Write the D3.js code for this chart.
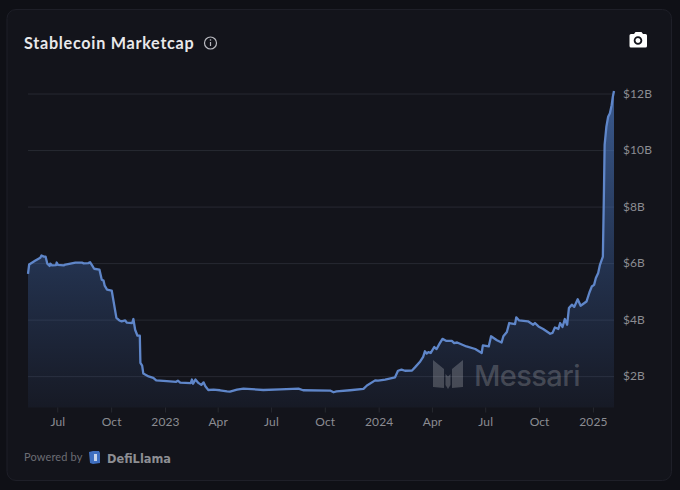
<!DOCTYPE html>
<html>
<head>
<meta charset="utf-8">
<script src="https://cdn.jsdelivr.net/npm/d3@7"></script>
<style>
html, body { margin: 0; padding: 0; background: #0f1016; }
svg { display: block; font-family: Lato, "Open Sans", sans-serif; }
.axis path { display: none; }
.axis text { fill: #8b8c92; font-size: 12px; font-family: Lato, sans-serif; letter-spacing: .1px; }
.x.axis line { stroke: #26282f; }
.grid line { stroke: #272932; }
.grid path { display: none; }
</style>
</head>
<body>
<div id="chart"></div>
<script>
// Days since 1 Jul 2022, market cap in $B
var days = [-50,-48,-38,-29,-27,-23,-20,-17,-13,-12,-9,-2,-1,1,11,14,31,42,45,53,56,59,63,72,76,79,81,85,93,101,106,110,116,119,128,130,133,137,141,142,145,147,156,164,169,187,203,206,210,228,230,232,236,241,246,250,253,258,267,278,290,295,307,318,352,381,412,420,466,472,477,500,523,529,543,548,560,577,582,588,594,606,611,620,625,628,631,634,638,644,648,653,658,664,674,678,683,699,714,725,727,737,741,751,759,762,768,772,782,784,789,804,813,816,822,830,842,846,850,856,859,863,867,871,874,879,883,889,894,904,909,913,917,920,924,927,932,934,935,938,941,944,947,949,951];
var values = [5.62,5.95,6.08,6.19,6.27,6.23,6.23,5.98,5.90,5.98,5.92,5.93,6.02,5.94,5.92,5.95,6.02,6.02,5.99,6.00,6.03,5.94,5.80,5.77,5.41,5.38,5.20,5.06,5.03,4.06,3.97,3.94,3.97,3.89,3.88,4.02,3.64,3.43,3.43,2.47,2.37,2.09,1.99,1.94,1.85,1.82,1.80,1.84,1.77,1.75,1.88,1.73,1.88,1.76,1.69,1.78,1.64,1.51,1.52,1.50,1.46,1.45,1.52,1.56,1.51,1.53,1.56,1.50,1.49,1.43,1.46,1.50,1.55,1.67,1.85,1.84,1.88,1.96,2.19,2.23,2.19,2.20,2.31,2.52,2.68,2.88,2.80,2.85,2.82,3.03,2.96,3.15,3.32,3.25,3.25,3.17,3.19,3.05,2.96,2.82,3.09,3.05,3.41,3.27,3.19,3.41,3.56,3.88,3.84,4.08,3.97,3.94,3.82,3.88,3.76,3.67,3.50,3.53,3.72,3.67,3.88,3.74,4.02,3.82,4.41,4.53,4.45,4.72,4.49,4.64,4.96,5.17,5.23,5.47,5.65,5.94,6.23,8.77,10.18,10.83,11.18,11.30,11.59,11.89,12.09];
var xTickDates = ["2022-07-01","2022-10-01","2023-01-01","2023-04-01","2023-07-01","2023-10-01","2024-01-01","2024-04-01","2024-07-01","2024-10-01","2025-01-01"];
var xTickLabels = ["Jul","Oct","2023","Apr","Jul","Oct","2024","Apr","Jul","Oct","2025"];
var yTicks = [2,4,6,8,10,12];

var W = 680, H = 490;
var margin = {top: 91, right: 66, bottom: 82.5, left: 28};
var width = W - margin.left - margin.right;
var height = H - margin.top - margin.bottom;

var parseDay = d3.utcParse("%Y-%m-%d");
var origin = parseDay("2022-07-01");
var dates = days.map(function (d) { return d3.utcDay.offset(origin, d); });

var x_scale = d3.scaleUtc()
    .domain([d3.utcDay.offset(origin, -50), d3.utcDay.offset(origin, 951)])
    .range([0, width]);
var y_scale = d3.scaleLinear()
    .domain([0.89, 12.09])
    .range([height, 0]);

var svg = d3.select("#chart").append("svg")
    .attr("width", W)
    .attr("height", H);

// Card
svg.append("rect")
    .attr("x", 7).attr("y", 9.5)
    .attr("width", 664.5).attr("height", 471)
    .attr("rx", 9)
    .style("fill", "#13141b")
    .style("stroke", "#1e1f28");

var defs = svg.append("defs");
var grad = defs.append("linearGradient")
    .attr("id", "areaFill")
    .attr("x1", 0).attr("x2", 0).attr("y1", 0).attr("y2", 1);
grad.append("stop").attr("offset", "0%").attr("stop-color", "#4b78c0").attr("stop-opacity", 0.72);
grad.append("stop").attr("offset", "60%").attr("stop-color", "#3f66a8").attr("stop-opacity", 0.33);
grad.append("stop").attr("offset", "100%").attr("stop-color", "#3f5f9c").attr("stop-opacity", 0.08);

var chart = svg.append("g")
    .attr("transform", "translate(" + margin.left + "," + margin.top + ")");

// Gridlines
chart.append("g")
    .attr("class", "grid")
    .call(d3.axisLeft(y_scale).tickValues(yTicks).tickSize(-width).tickFormat(""));

// Area and line
var area = d3.area()
    .x(function (d, i) { return x_scale(dates[i]); })
    .y0(height)
    .y1(function (d) { return y_scale(d); });
var line = d3.line()
    .x(function (d, i) { return x_scale(dates[i]); })
    .y(function (d) { return y_scale(d); });

chart.append("path")
    .datum(values)
    .attr("d", area)
    .style("fill", "url(#areaFill)");

// Watermark
var mark = svg.append("g").style("fill", "#ffffff").style("fill-opacity", 0.2);
mark.append("path")
    .attr("d", "M433 360 L444 369 L444 388 L433 387 Z M463 360 L463 387 L452 388 L452 369 Z M445.5 374 L448 376.5 L450.5 374 L450.5 385 L448 389 L445.5 385 Z");
mark.append("text")
    .attr("x", 474).attr("y", 385.5)
    .style("font-family", "Inter, sans-serif")
    .style("font-size", "29px")
    .style("font-weight", 500)
    .style("letter-spacing", "-0.6px")
    .text("Messari");

chart.append("path")
    .datum(values)
    .attr("d", line)
    .style("fill", "none")
    .style("stroke", "#5f86c9")
    .style("stroke-width", 2.3)
    .style("stroke-linejoin", "round");

// Axes
var xAxis = d3.axisBottom(x_scale)
    .tickValues(xTickDates.map(parseDay))
    .tickSize(5)
    .tickPadding(5)
    .tickFormat(function (d, i) { return xTickLabels[i]; });
chart.append("g")
    .attr("class", "x axis")
    .attr("transform", "translate(0," + height + ")")
    .call(xAxis);

var yAxis = d3.axisRight(y_scale)
    .tickValues(yTicks)
    .tickSize(0)
    .tickPadding(9)
    .tickFormat(function (d) { return "$" + d + "B"; });
chart.append("g")
    .attr("class", "y axis")
    .attr("transform", "translate(" + width + ",0)")
    .call(yAxis);

// Title
svg.append("text")
    .attr("x", 24).attr("y", 48.5)
    .style("fill", "#e8e8ea")
    .style("font-size", "16.2px")
    .style("font-weight", 700)
    .style("letter-spacing", "0.72px")
    .text("Stablecoin Marketcap");

// Info icon
svg.append("circle")
    .attr("cx", 210.5).attr("cy", 43).attr("r", 6)
    .style("fill", "none").style("stroke", "#b9bac0").style("stroke-width", 1.2);
svg.append("rect")
    .attr("x", 209.9).attr("y", 42).attr("width", 1.2).attr("height", 4)
    .style("fill", "#b9bac0");
svg.append("circle")
    .attr("cx", 210.5).attr("cy", 40).attr("r", 0.8)
    .style("fill", "#b9bac0");

// Camera icon
svg.append("path")
    .attr("d", "M629.5 35.5 Q629.5 34 631 34 L634 34 L635.5 32 L641.5 32 L643 34 L645.5 34 Q647 34 647 35.5 L647 46 Q647 47.5 645.5 47.5 L631 47.5 Q629.5 47.5 629.5 46 Z")
    .style("fill", "#ffffff");
svg.append("circle")
    .attr("cx", 638).attr("cy", 40.5).attr("r", 3.4)
    .style("fill", "none").style("stroke", "#13141b").style("stroke-width", 1.8);

// Footer
svg.append("text")
    .attr("x", 24).attr("y", 461)
    .style("fill", "#6c6d74")
    .style("font-size", "11px")
    .style("letter-spacing", "0.15px")
    .text("Powered by");
svg.append("path")
    .attr("d", "M89 452 L93 451 L99 451 L100 453 L100 463 L93 464 L90 463 Z")
    .style("fill", "#3f6fc0");
svg.append("rect")
    .attr("x", 94).attr("y", 454).attr("width", 3).attr("height", 7)
    .style("fill", "#c7d4ea");
svg.append("text")
    .attr("x", 103).attr("y", 462.5)
    .attr("dx", 4)
    .style("fill", "#8d8e93")
    .style("font-family", "'DejaVu Sans', sans-serif")
    .style("font-size", "11.4px")
    .style("font-weight", 700)
    .text("DefiLlama");
</script>
</body>
</html>
